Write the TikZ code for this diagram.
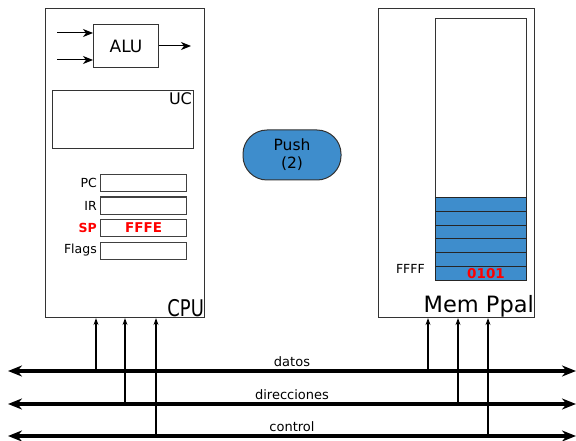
\documentclass[tikz,border=0pt]{standalone}
\usepackage{graphicx}
\usepackage{fontspec}
\setmainfont{DejaVu Sans}
\usetikzlibrary{arrows.meta,positioning}
\definecolor{pushblue}{RGB}{62,141,204}

\begin{document}
\begin{tikzpicture}[x=1pt,y=-1pt,
    box/.style={draw=black!80,line width=1.1pt,inner sep=0pt,anchor=north west},
    reg/.style={draw=black!75,line width=1.1pt,inner sep=0pt,minimum width=86,minimum height=17,anchor=north west},
    regname/.style={anchor=east,inner sep=3pt,font=\fontsize{12.5}{14}\selectfont},
    cell/.style={draw=black!85,fill=pushblue,line width=1pt,inner sep=0pt,minimum width=91,minimum height=13.8,anchor=north west},
    arr/.style={-{Stealth[length=10pt,width=8pt,inset=3pt]},line width=1pt},
    wire/.style={-{Stealth[length=7pt,width=5pt]},line width=1.4pt},
    bus/.style={{Stealth[length=14pt,width=11pt]}-{Stealth[length=14pt,width=11pt]},line width=3.5pt},
    buslabel/.style={midway,above,inner sep=3pt,font=\fontsize{13}{15}\selectfont},
    redbold/.style={text=red,font=\bfseries\fontsize{13.5}{15}\selectfont}]
    \useasboundingbox (0,0) rectangle (576,441);

    % CPU
    \node[box,minimum width=159,minimum height=309] (cpu) at (45,8) {};
    \node[anchor=south east,inner sep=1pt,font=\fontsize{23}{25}\selectfont] (cpulbl) at (cpu.south east) {\scalebox{0.78}[1]{CPU}};

    \node[box,minimum width=65,minimum height=43,font=\fontsize{17}{19}\selectfont] (alu) at (93,24) {ALU};
    \coordinate (aluin1) at (57,33);
    \coordinate (aluin2) at (57,60);
    \coordinate (aluout) at (191,46);
    \draw[arr] (aluin1) -- (aluin1 -| alu.west);
    \draw[arr] (aluin2) -- (aluin2 -| alu.west);
    \draw[arr] (aluout -| alu.east) -- (aluout);

    \node[box,minimum width=141,minimum height=58] (uc) at (52,90) {};
    \node[anchor=north east,inner sep=2pt,font=\fontsize{16}{18}\selectfont] (uclbl) at (uc.north east) {UC};

    \node[reg] (pc) at (100,174) {};
    \node[reg] (ir) at (100,196.5) {};
    \node[reg,redbold] (sp) at (100,219) {FFFE};
    \node[reg] (flags) at (100,241.5) {};
    \node[regname] (pclbl) at (pc.west) {PC};
    \node[regname] (irlbl) at (ir.west) {IR};
    \node[regname,redbold,font=\bfseries\fontsize{12.5}{14}\selectfont] (splbl) at (sp.west) {SP};
    \node[regname] (flagslbl) at (flags.west) {Flags};

    % instruccion
    \node[draw=black!80,fill=pushblue,line width=1pt,rounded corners=24pt,minimum width=98,minimum height=50,
          align=center,font=\fontsize{15.5}{18}\selectfont] (push) at (292,155) {Push\\(2)};

    % memoria
    \node[box,minimum width=156,minimum height=309] (mem) at (378,8) {};
    \node[anchor=south east,inner sep=1pt,font=\fontsize{22.5}{24}\selectfont] (memlbl) at (mem.south east) {Mem Ppal};
    \node[box,minimum width=91,minimum height=262] (stack) at (435,18) {};
    \node[cell] (c1) at (435,197) {};
    \node[cell] (c2) at (435,210.8) {};
    \node[cell] (c3) at (435,224.6) {};
    \node[cell] (c4) at (435,238.4) {};
    \node[cell] (c5) at (435,252.2) {};
    \node[cell] (c6) at (435,266) {};
    \node[redbold] (val) at ([xshift=5pt]c6.center) {0101};
    \node[anchor=east,inner sep=2pt,font=\fontsize{12.5}{14}\selectfont] (ffff) at ([xshift=-8pt,yshift=4pt]c6.west) {FFFF};

    % buses
    \coordinate (datosL) at (8,371);
    \coordinate (datosR) at (576,371);
    \coordinate (dirL) at (8,404);
    \coordinate (dirR) at (576,404);
    \coordinate (ctrlL) at (8,436);
    \coordinate (ctrlR) at (576,436);

    \coordinate (cd) at (96,371);
    \coordinate (ca) at (125,404);
    \coordinate (cc) at (156,436);
    \coordinate (md) at (428,371);
    \coordinate (ma) at (458,404);
    \coordinate (mc) at (488,436);
    \draw[wire] (cd) -- (cd |- cpu.south);
    \draw[wire] (ca) -- (ca |- cpu.south);
    \draw[wire] (cc) -- (cc |- cpu.south);
    \draw[wire] (md) -- (md |- mem.south);
    \draw[wire] (ma) -- (ma |- mem.south);
    \draw[wire] (mc) -- (mc |- mem.south);

    \draw[bus] (datosL) -- node[buslabel] (datoslbl) {datos} (datosR);
    \draw[bus] (dirL) -- node[buslabel] (dirlbl) {direcciones} (dirR);
    \draw[bus] (ctrlL) -- node[buslabel] (ctrllbl) {control} (ctrlR);
\end{tikzpicture}
\end{document}
